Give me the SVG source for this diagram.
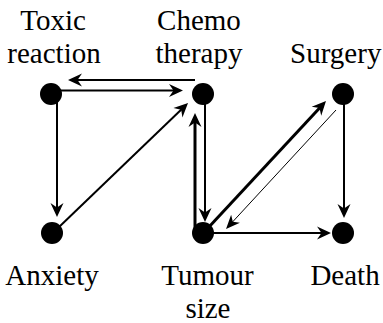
<svg xmlns="http://www.w3.org/2000/svg" width="383" height="323" viewBox="0 0 383 323">
<defs>
<marker id="ah" markerUnits="userSpaceOnUse" orient="auto" refX="0" refY="0" markerWidth="20" markerHeight="20" overflow="visible">
<path d="M6,0 L-8,-6.5 L-3.5,0 L-8,6.5 Z" fill="#000"/>
</marker>
<marker id="ahs" markerUnits="userSpaceOnUse" orient="auto" refX="0" refY="0" markerWidth="20" markerHeight="20" overflow="visible">
<path d="M6,0 L-8,-6 L-4,0 L-8,6 Z" fill="#000"/>
</marker>
</defs>
<g id="connectors" stroke="#000" fill="none" stroke-width="2" marker-end="url(#ah)">
<path d="M195,80 L74,80"/>
<path d="M52,90.5 L177,90.5"/>
<path d="M57,94 L57,211"/>
<path d="M58,228 L183.7,107.2"/>
<path stroke-width="3" d="M195,233 L195,119"/>
<path d="M205,94 L205,216"/>
<path stroke-width="3" d="M208,228 L321.9,105.4"/>
<path stroke-width="1" d="M336,110 L230.1,224.6" marker-end="url(#ahs)"/>
<path d="M344,94 L344,212"/>
<path d="M203,233 L325,233"/>
</g>
<g id="toxic"><circle cx="51" cy="94" r="11"/><text font-family="'Liberation Serif', 'Times New Roman', serif" font-size="29" x="20.2" y="30">Toxic</text><text font-family="'Liberation Serif', 'Times New Roman', serif" font-size="29" x="7.3" y="63">reaction</text></g>
<g id="chemo"><circle cx="203" cy="94" r="11"/><text font-family="'Liberation Serif', 'Times New Roman', serif" font-size="29" x="157.1" y="30">Chemo</text><text font-family="'Liberation Serif', 'Times New Roman', serif" font-size="29" x="155.5" y="63">therapy</text></g>
<g id="surgery"><circle cx="343" cy="94" r="11"/><text font-family="'Liberation Serif', 'Times New Roman', serif" font-size="29" x="290.1" y="63">Surgery</text></g>
<g id="anxiety"><circle cx="52" cy="233" r="11"/><text font-family="'Liberation Serif', 'Times New Roman', serif" font-size="29" x="5.3" y="285">Anxiety</text></g>
<g id="tumour"><circle cx="203" cy="233" r="11"/><text font-family="'Liberation Serif', 'Times New Roman', serif" font-size="29" x="161.3" y="285">Tumour</text><text font-family="'Liberation Serif', 'Times New Roman', serif" font-size="29" x="185.4" y="318">size</text></g>
<g id="death"><circle cx="343" cy="233" r="11"/><text font-family="'Liberation Serif', 'Times New Roman', serif" font-size="29" x="310.4" y="285">Death</text></g>
</svg>
